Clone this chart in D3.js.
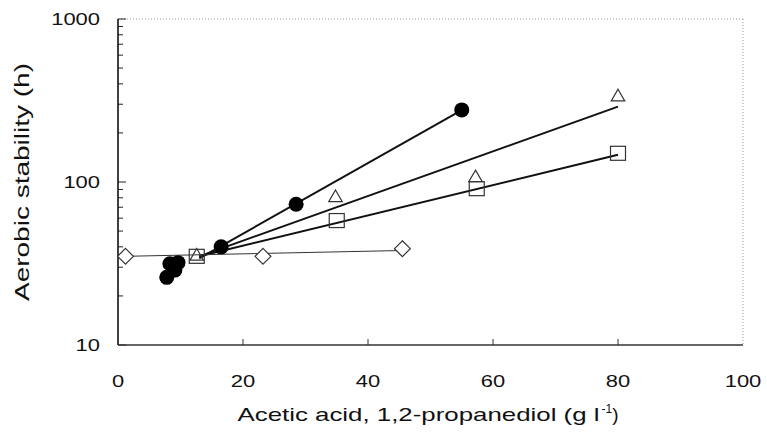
<!DOCTYPE html>
<html>
<head>
<meta charset="utf-8">
<script src="https://cdn.jsdelivr.net/npm/d3@7"></script>
<style>
  body { margin: 0; background: #fff; }
  svg text { font-family: "Liberation Sans", Arial, sans-serif; fill: #111; }
</style>
</head>
<body>
<div id="chart"></div>
<script>
// Aerobic stability vs additive concentration (log y)

const xTicks = [0, 20, 40, 60, 80, 100];
const yTicks = [10, 100, 1000];

// filled circles
const circleX = [7.8, 8.3, 9.1, 9.6, 16.5, 28.5, 55];
const circleY = [26, 31.5, 28.8, 32, 40, 73, 277];
// open triangles
const triX = [12.6, 34.8, 57.2, 80];
const triY = [35, 80, 106, 332];
// open squares
const sqX = [12.6, 35, 57.4, 80];
const sqY = [35, 58, 91, 150];
// open diamonds
const diaX = [1.2, 23.2, 45.5];
const diaY = [35, 35, 39];

// fitted lines (start, end)
const circleFit = [[13, 34], [55, 276]];
const triFit = [[13, 35], [80, 290]];
const sqFit = [[13, 35], [80, 147]];
const diaFit = [[1.2, 35], [45.5, 38]];

const W = 767, H = 436;
const mLeft = 118, mRight = 743, mTop = 19, mBottom = 345;

const svg = d3.select("#chart").append("svg")
  .attr("width", W).attr("height", H);

const x = d3.scaleLinear().domain([0, 100]).range([mLeft, mRight]);
const y = d3.scaleLog().domain([10, 1000]).range([mBottom, mTop]);

// dotted frame top/right
svg.append("line")
  .attr("x1", mLeft).attr("x2", mRight).attr("y1", mTop).attr("y2", mTop)
  .attr("stroke", "#999").attr("stroke-dasharray", "1,2");
svg.append("line")
  .attr("x1", mRight).attr("x2", mRight).attr("y1", mTop).attr("y2", mBottom)
  .attr("stroke", "#999").attr("stroke-dasharray", "1,2");

// y axis
const minor = [];
for (let d = 10; d < 1000; d *= 10) {
  for (let k = 2; k <= 9; k++) minor.push(d * k);
}
svg.selectAll(".ymin").data(minor).join("line")
  .attr("x1", mLeft).attr("x2", mLeft + 5)
  .attr("y1", d => y(d)).attr("y2", d => y(d))
  .attr("stroke", "#222").attr("stroke-width", 1);
svg.selectAll(".ymaj").data(yTicks).join("line")
  .attr("x1", mLeft).attr("x2", mLeft + 8)
  .attr("y1", d => y(d)).attr("y2", d => y(d))
  .attr("stroke", "#222").attr("stroke-width", 1);
svg.selectAll(".ylab").data(yTicks).join("text")
  .attr("x", mLeft - 18).attr("y", d => y(d))
  .attr("dy", "0.35em").attr("text-anchor", "end")
  .style("font-size", "17px")
  .attr("textLength", d => String(d).length * 12.2)
  .attr("lengthAdjust", "spacingAndGlyphs")
  .text(d => d);
svg.append("line")
  .attr("x1", mLeft).attr("x2", mLeft).attr("y1", mTop).attr("y2", mBottom)
  .attr("stroke", "#111").attr("stroke-width", 1.6);

// x axis
svg.append("line")
  .attr("x1", mLeft).attr("x2", mRight).attr("y1", mBottom).attr("y2", mBottom)
  .attr("stroke", "#333").attr("stroke-width", 1.3);
svg.selectAll(".xt").data(xTicks.slice(1, -1)).join("line")
  .attr("x1", d => x(d)).attr("x2", d => x(d))
  .attr("y1", mBottom).attr("y2", mBottom - 6)
  .attr("stroke", "#333");
svg.selectAll(".xlab").data(xTicks).join("text")
  .attr("x", d => x(d)).attr("y", mBottom + 42)
  .attr("text-anchor", "middle")
  .style("font-size", "17px")
  .attr("textLength", d => String(d).length * 12.2)
  .attr("lengthAdjust", "spacingAndGlyphs")
  .text(d => d);

// axis titles
const xt = svg.append("text")
  .attr("x", 428).attr("y", 421)
  .attr("text-anchor", "middle")
  .style("font-size", "19px");
xt.append("tspan").text("Acetic acid, 1,2-propanediol (g l")
  .attr("textLength", 362).attr("lengthAdjust", "spacingAndGlyphs");
xt.append("tspan").attr("dx", 2).attr("dy", -8).style("font-size", "12px").text("-1");
xt.append("tspan").attr("dy", 8).text(")");

svg.append("text")
  .attr("transform", `translate(29,${(mTop + mBottom) / 2}) rotate(-90)`)
  .attr("text-anchor", "middle")
  .style("font-size", "20px")
  .attr("textLength", 238).attr("lengthAdjust", "spacingAndGlyphs")
  .text("Aerobic stability (h)");

// fit lines
const line = d3.line().x(d => x(d[0])).y(d => y(d[1]));
[circleFit, triFit, sqFit].forEach(f => {
  svg.append("path").attr("d", line(f))
    .attr("fill", "none").attr("stroke", "#111").attr("stroke-width", 2);
});
svg.append("path").attr("d", line(diaFit))
  .attr("fill", "none").attr("stroke", "#333").attr("stroke-width", 1);

// markers
const zip = (a, b) => a.map((v, i) => [v, b[i]]);

svg.selectAll(".dia").data(zip(diaX, diaY)).join("path")
  .attr("d", d3.symbol(d3.symbolDiamond2, 160))
  .attr("transform", d => `translate(${x(d[0])},${y(d[1])})`)
  .attr("fill", "#fff").attr("stroke", "#333").attr("stroke-width", 1.2);

svg.selectAll(".sq").data(zip(sqX, sqY)).join("rect")
  .attr("x", d => x(d[0]) - 7.5).attr("y", d => y(d[1]) - 7)
  .attr("width", 15).attr("height", 14)
  .attr("fill", "none").attr("stroke", "#333").attr("stroke-width", 1.2);

svg.selectAll(".tri").data(zip(triX, triY)).join("path")
  .attr("d", d3.symbol(d3.symbolTriangle2, 130))
  .attr("transform", d => `translate(${x(d[0])},${y(d[1])})`)
  .attr("fill", "none").attr("stroke", "#333").attr("stroke-width", 1.2);

svg.selectAll(".circ").data(zip(circleX, circleY)).join("circle")
  .attr("cx", d => x(d[0])).attr("cy", d => y(d[1]))
  .attr("r", 7.5)
  .attr("fill", "#000");
</script>
</body>
</html>
